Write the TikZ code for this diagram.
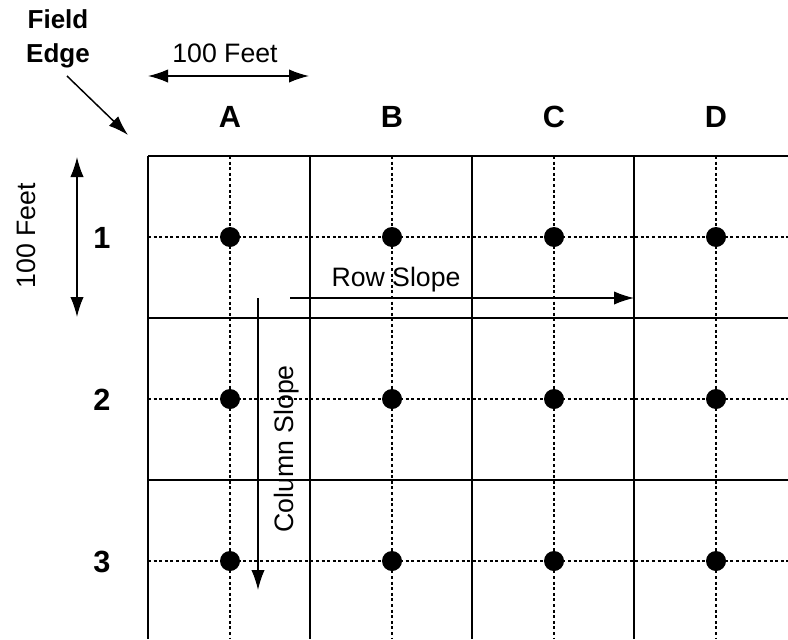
\documentclass[tikz,border=0pt]{standalone}
\usepackage{fontspec}
\setmainfont{Liberation Sans}
\usetikzlibrary{arrows.meta,positioning}
\tikzset{
  plotline/.style={line width=1.1pt},
  centreline/.style={line width=0.95pt, dash pattern=on 2.2pt off 2pt},
  dimarrow/.style={{Latex[length=15pt,width=10pt]}-{Latex[length=15pt,width=10pt]}, line width=1.1pt},
  slopearrow/.style={-{Latex[length=15pt,width=10pt]}, line width=1.1pt},
  lbl/.style={font=\fontsize{20}{25.5}\selectfont},
  hdr/.style={font=\bfseries\fontsize{23}{27}\selectfont},
  edgelbl/.style={font=\bfseries\fontsize{19.5}{25.5}\selectfont}
}
\begin{document}
\begin{tikzpicture}[x=0.75pt,y=-0.75pt]
        \useasboundingbox (0,0) rectangle (788,639);
        % dotted centre lines of the plots
        \foreach \x in {230,392,554,716}{\draw[centreline] (\x,156) -- (\x,639);}
        \foreach \y in {237,399,561}{\draw[centreline] (148,\y) -- (788,\y);}
        % plot borders
        \foreach \x in {148,310,472,634}{\draw[plotline] (\x,156) -- (\x,639);}
        \foreach \y in {156,318,480}{\draw[plotline] (148,\y) -- (788,\y);}
        % sample points
        \foreach \x in {230,392,554,716}{\foreach \y in {237,399,561}{\path[fill=black] (\x,\y) circle[radius=7.5pt];}}
        % column and row names
        \foreach \x/\name in {230/A,392/B,554/C,716/D}{\node[hdr, anchor=base] (col\name) at (\x,127) {\name};}
        \foreach \y/\name in {248/1,410/2,572/3}{\node[hdr, anchor=base] (row\name) at (102,\y) {\name};}
        % field edge
        \node[edgelbl, align=center, anchor=base] (edge) at (58,62) {Field\\Edge};
        \coordinate (edgetail) at (67,76);
        \coordinate (edgetip) at (128,135);
        \draw[slopearrow] (edgetail) -- (edgetip);
        % plot size
        \node[lbl, anchor=base] (wfeet) at (225,62) {100 Feet};
        \coordinate (wleft) at (148,76);
        \coordinate (wright) at (309,76);
        \draw[dimarrow] (wleft) -- (wright);
        \node[lbl, rotate=90, anchor=base] (hfeet) at (35,236) {100 Feet};
        \coordinate (htop) at (77,157);
        \coordinate (hbot) at (77,317);
        \draw[dimarrow] (htop) -- (hbot);
        % slopes
        \node[lbl, anchor=base] (rowslope) at (396,286) {Row Slope};
        \coordinate (rowstart) at (290,298);
        \coordinate (rowend) at (634,298);
        \draw[slopearrow] (rowstart) -- (rowend);
        \node[lbl, rotate=90, anchor=base] (colslope) at (293,449) {Column Slope};
        \coordinate (colstart) at (258,298);
        \coordinate (colend) at (258,590);
        \draw[slopearrow] (colstart) -- (colend);
    \end{tikzpicture}
\end{document}
